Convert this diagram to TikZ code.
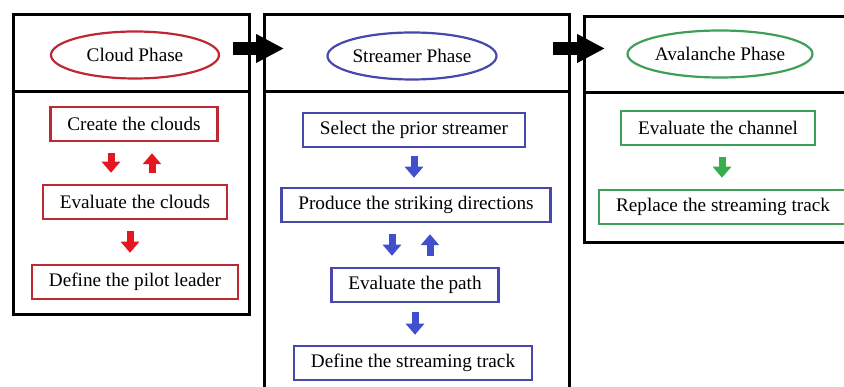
\documentclass[tikz,border=0pt]{standalone}
\usepackage{fontspec}
\setmainfont{Liberation Serif}
\usetikzlibrary{shapes.geometric,arrows.meta,calc}
\definecolor{rosso}{RGB}{190,40,50}
\definecolor{rossof}{RGB}{230,22,32}
\definecolor{blu}{RGB}{72,72,172}
\definecolor{bluf}{RGB}{64,80,204}
\definecolor{verde}{RGB}{62,160,88}
\definecolor{verdef}{RGB}{58,172,76}

\begin{document}
\begin{tikzpicture}[x=1pt,y=-1pt,font=\fontsize{19.2}{23}\selectfont,
  panel/.style={draw,line width=3pt,anchor=north west,inner sep=0pt},
  phase/.style={ellipse,draw,line width=2.2pt,minimum height=47pt,inner sep=0pt},
  passo/.style={draw,line width=2.5pt,minimum height=34pt,inner xsep=17pt,inner ysep=0pt},
  grossa/.style={line width=13pt,-{Triangle[width=27pt,length=28pt]}},
  freccia/.style={line width=7pt,-{Triangle[width=18pt,length=11pt]},shorten <=11pt,shorten >=11pt}]

\useasboundingbox (0,0) rectangle (844,387);
\clip (0,0) rectangle (844,387);

%pannelli
\node[panel,minimum width=236pt,minimum height=300pt] (cloudpanel) at (12,13) {};
\node[panel,minimum width=305pt,minimum height=400pt] (streamerpanel) at (263,13) {};
\node[panel,minimum width=300pt,minimum height=226pt] (avalanchepanel) at (583,15) {};
\draw[line width=3pt] (12,92) -- (248,92);
\draw[line width=3pt] (263,92) -- (568,92);
\draw[line width=3pt] (583,93) -- (844,93);

%fase nuvola
\node[phase,draw=rosso,minimum width=168pt] (cloudphase) at (135,55) {Cloud Phase};
\node[passo,draw=rosso] (create) at (134,124) {Create the clouds};
\node[passo,draw=rosso] (evalclouds) at (135,202) {Evaluate the clouds};
\node[passo,draw=rosso] (pilot) at (135,282) {Define the pilot leader};
\draw[freccia,rossof] ($(create.south)+(-23,0)$) -- ($(create.south |- evalclouds.north)+(-23,0)$);
\draw[freccia,rossof] ($(create.south |- evalclouds.north)+(18,0)$) -- ($(create.south)+(18,0)$);
\draw[freccia,rossof] ($(evalclouds.south)+(-5,0)$) -- ($(evalclouds.south |- pilot.north)+(-5,0)$);

%fase streamer
\node[phase,draw=blu,minimum width=169pt] (streamerphase) at (412,56) {Streamer Phase};
\node[passo,draw=blu] (prior) at (414,130) {Select the prior streamer};
\node[passo,draw=blu] (striking) at (416,205) {Produce the striking directions};
\node[passo,draw=blu] (path) at (415,285) {Evaluate the path};
\node[passo,draw=blu] (track) at (413,363) {Define the streaming track};
\draw[freccia,bluf,shorten <=8pt,shorten >=9pt] (prior.south) -- (prior.south |- striking.north);
\draw[freccia,bluf] ($(striking.south)+(-24,0)$) -- ($(striking.south |- path.north)+(-24,0)$);
\draw[freccia,bluf] ($(striking.south |- path.north)+(14,0)$) -- ($(striking.south)+(14,0)$);
\draw[freccia,bluf,shorten <=9pt,shorten >=10pt] (path.south) -- (path.south |- track.north);

%fase valanga
\node[phase,draw=verde,minimum width=185pt] (avalanchephase) at (720,54) {Avalanche Phase};
\node[passo,draw=verde] (channel) at (718,128) {Evaluate the channel};
\node[passo,draw=verde] (replace) at (723,207) {Replace the streaming track};
\draw[freccia,verdef] ($(channel.south)+(4,0)$) -- ($(channel.south |- replace.north)+(4,0)$);

%frecce nere
\draw[grossa] ([shift={(-18pt,-35.5pt)}]cloudpanel.north east) -- ([shift={(21pt,-35.5pt)}]streamerpanel.north west);
\draw[grossa] ([shift={(-18pt,-35.5pt)}]streamerpanel.north east) -- ([shift={(22pt,-33.5pt)}]avalanchepanel.north west);

\end{tikzpicture}
\end{document}
